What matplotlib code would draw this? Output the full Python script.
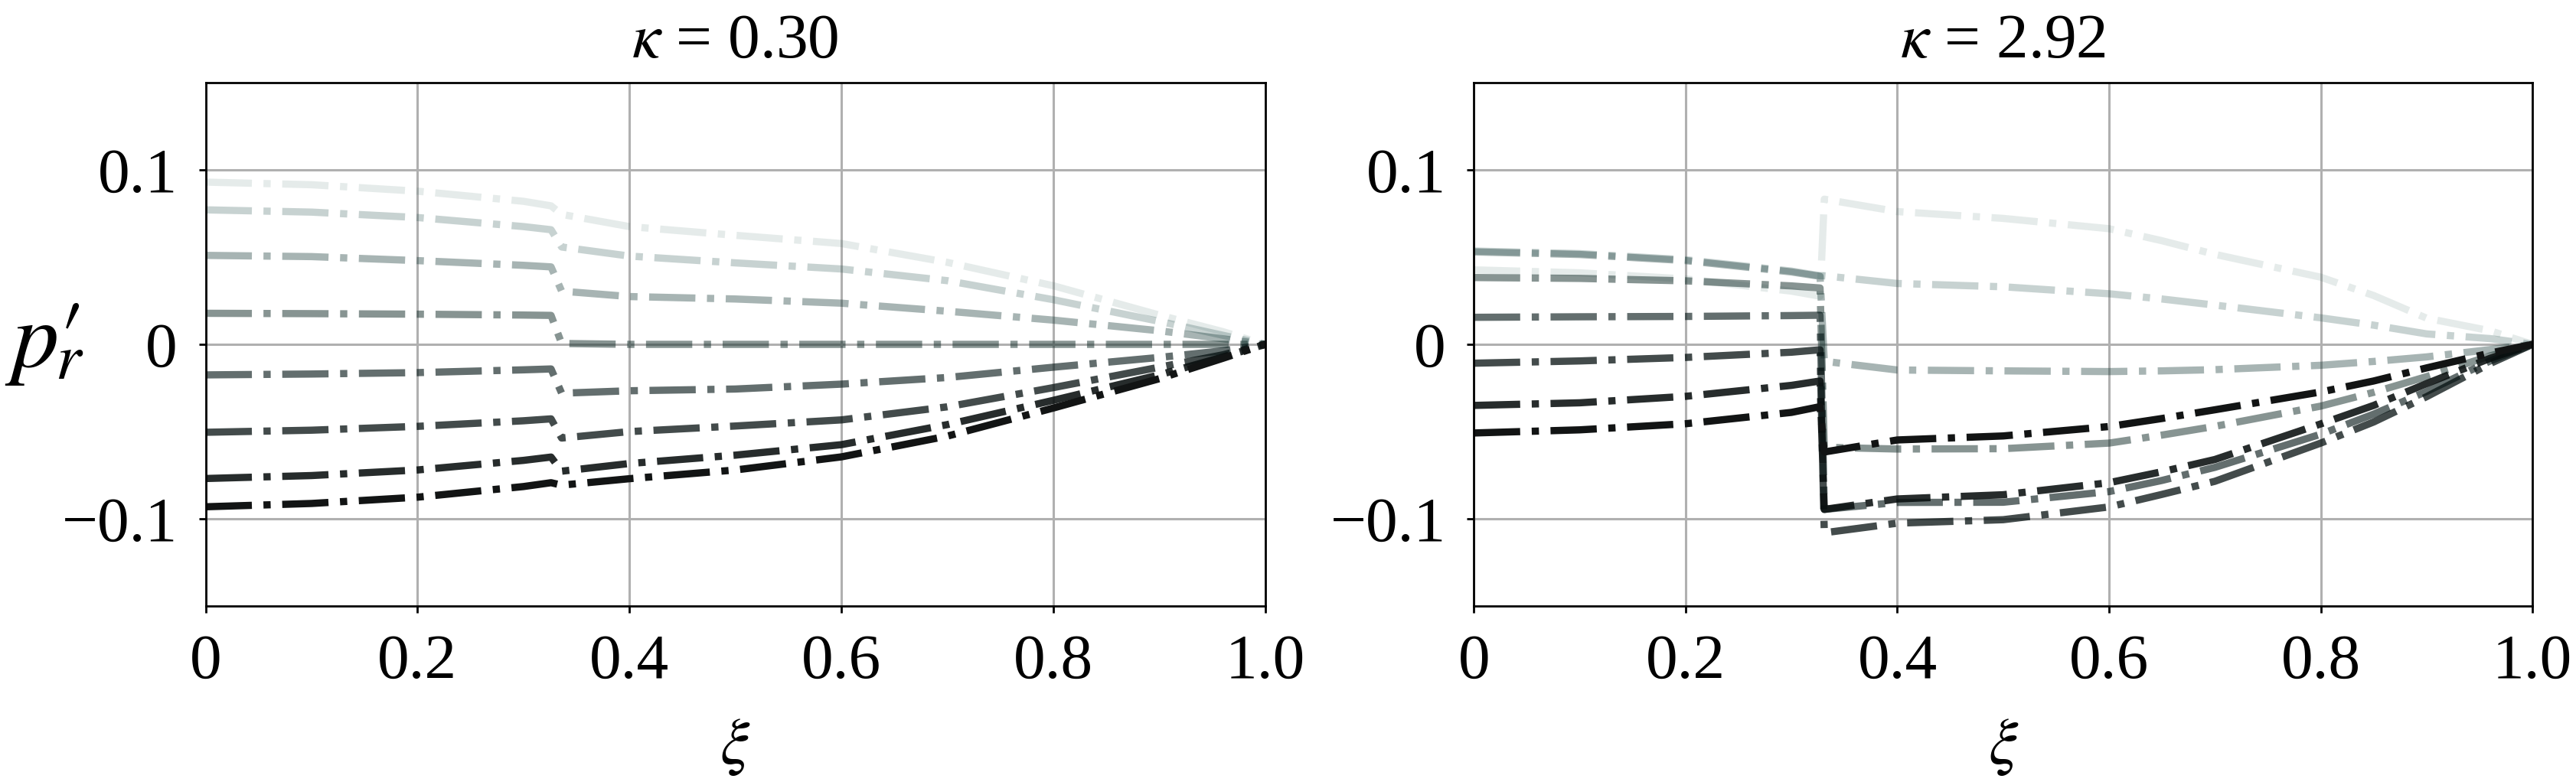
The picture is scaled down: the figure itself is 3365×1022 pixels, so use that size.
import matplotlib
matplotlib.use('Agg')
import matplotlib.pyplot as plt

plt.rcParams['font.family'] = ['Liberation Serif', 'DejaVu Serif']
plt.rcParams['mathtext.fontset'] = 'stix'

# values
titles = [r'$\kappa$ = 0.30', r'$\kappa$ = 2.92']

xi_left = [0, 0.1, 0.2, 0.3, 0.326, 0.336, 0.4, 0.5, 0.6, 0.7, 0.8, 0.9, 0.96, 1.0]
left_1 = [0.093, 0.0915, 0.0878, 0.082, 0.0794, 0.0745, 0.0675, 0.0625, 0.0578, 0.047, 0.0336, 0.0168, 0.0073, 0]
left_2 = [0.0771, 0.0758, 0.0727, 0.0675, 0.0657, 0.0558, 0.0506, 0.0467, 0.0432, 0.0365, 0.0256, 0.0132, 0.0052, 0]
left_3 = [0.051, 0.0503, 0.048, 0.0453, 0.0444, 0.0305, 0.0274, 0.026, 0.0236, 0.019, 0.0139, 0.0078, 0.0032, 0]
left_4 = [0.0178, 0.0176, 0.0173, 0.0168, 0.0166, 0.0005, 0.0, 0.0, 0.0, 0.0, 0.0, 0.0, 0.0, 0]
left_5 = [-0.0175, -0.017, -0.0162, -0.0146, -0.0141, -0.028, -0.0266, -0.0256, -0.0228, -0.019, -0.0131, -0.0075, -0.0037, 0]
left_6 = [-0.0504, -0.0492, -0.047, -0.0438, -0.0427, -0.0537, -0.05, -0.0468, -0.0433, -0.0358, -0.0248, -0.0131, -0.006, 0]
left_7 = [-0.0769, -0.0752, -0.072, -0.0665, -0.0646, -0.0727, -0.0683, -0.0635, -0.0575, -0.046, -0.0321, -0.0175, -0.0073, 0]
left_8 = [-0.0931, -0.0912, -0.0876, -0.0815, -0.0793, -0.0807, -0.077, -0.072, -0.0645, -0.0526, -0.0365, -0.0197, -0.008, 0]

xi_right = [0, 0.1, 0.2, 0.3, 0.327, 0.331, 0.4, 0.5, 0.6, 0.65, 0.7, 0.8, 0.85, 0.9, 0.96, 1.0]
right_1 = [0.0427, 0.041, 0.0375, 0.0305, 0.0276, 0.0832, 0.0761, 0.0722, 0.0663, 0.0594, 0.0516, 0.0385, 0.028, 0.015, 0.0078, 0]
right_2 = [0.0535, 0.052, 0.0485, 0.042, 0.0393, 0.0393, 0.0349, 0.033, 0.029, 0.026, 0.0225, 0.0152, 0.011, 0.006, 0.0033, 0]
right_3 = [0.053, 0.0515, 0.048, 0.0415, 0.039, -0.0097, -0.0147, -0.0152, -0.0156, -0.0152, -0.0145, -0.012, -0.0098, -0.0072, -0.003, 0]
right_4 = [0.0383, 0.0378, 0.0364, 0.0335, 0.0323, -0.059, -0.06, -0.0598, -0.0566, -0.052, -0.047, -0.0354, -0.0275, -0.0185, -0.0066, 0]
right_5 = [0.0155, 0.0158, 0.016, 0.0165, 0.0167, -0.0946, -0.0906, -0.0905, -0.0844, -0.078, -0.0705, -0.0515, -0.04, -0.027, -0.0095, 0]
right_6 = [-0.0108, -0.0095, -0.0075, -0.0045, -0.0031, -0.108, -0.1025, -0.1005, -0.0932, -0.086, -0.0785, -0.0566, -0.0445, -0.03, -0.011, 0]
right_7 = [-0.035, -0.0335, -0.0298, -0.0235, -0.021, -0.0946, -0.0886, -0.0862, -0.0793, -0.073, -0.066, -0.0456, -0.035, -0.0225, -0.008, 0]
right_8 = [-0.0508, -0.049, -0.0455, -0.039, -0.0357, -0.0617, -0.0548, -0.0525, -0.0471, -0.0425, -0.0375, -0.0273, -0.021, -0.0135, -0.005, 0]

x_ticks = [0, 0.2, 0.4, 0.6, 0.8, 1.0]
x_ticklabels = ['0', '0.2', '0.4', '0.6', '0.8', '1.0']
y_ticks = [-0.1, 0, 0.1]
y_ticklabels = ['\u22120.1', '0', '0.1']

left_curves = [left_1, left_2, left_3, left_4, left_5, left_6, left_7, left_8]
right_curves = [right_1, right_2, right_3, right_4, right_5, right_6, right_7, right_8]

# light to dark, each line also gets more opaque
colors = ['#37675f', '#234f4b', '#173a37', '#112b27', '#051717', '#040f0f', '#080e0e', '#121414']
alphas = [(i + 1) / 8 for i in range(8)]

fig = plt.figure(figsize=(16.83, 5.11), dpi=200)
ax_left = fig.add_axes([0.0798, 0.225, 0.4112, 0.6693])
ax_right = fig.add_axes([0.5720, 0.225, 0.4108, 0.6693])

panels = [(ax_left, xi_left, left_curves), (ax_right, xi_right, right_curves)]

for n, (ax, xi, curves) in enumerate(panels):
	ax.set_axisbelow(True)
	ax.grid(True, color='#b0b0b0', linewidth=1.1)
	for i, curve in enumerate(curves):
		ax.plot(xi, curve, linestyle='-.', linewidth=3.4, color=colors[i], alpha=alphas[i],
		        dash_capstyle='butt', solid_joinstyle='miter')
	ax.set_xlim(0, 1)
	ax.set_ylim(-0.15, 0.15)
	ax.set_xticks(x_ticks)
	ax.set_xticklabels(x_ticklabels)
	ax.set_yticks(y_ticks)
	ax.set_yticklabels(y_ticklabels)
	ax.tick_params(labelsize=30, length=3.2, width=1.0, pad=10)
	for s in ax.spines.values():
		s.set_linewidth(1.0)
		s.set_color('black')
	ax.set_title(titles[n], fontsize=30, pad=12)
	ax.set_xlabel(r'$\xi$', fontsize=31, labelpad=12)

# full size prime, subscript pulled back under it
ax_left.set_ylabel(r'$p\prime_{\!\!\!\!r}$', fontsize=44, rotation=0, ha='center', va='center')
ax_left.yaxis.set_label_coords(-0.152, 0.5)

fig.savefig('out.png', dpi=200)
